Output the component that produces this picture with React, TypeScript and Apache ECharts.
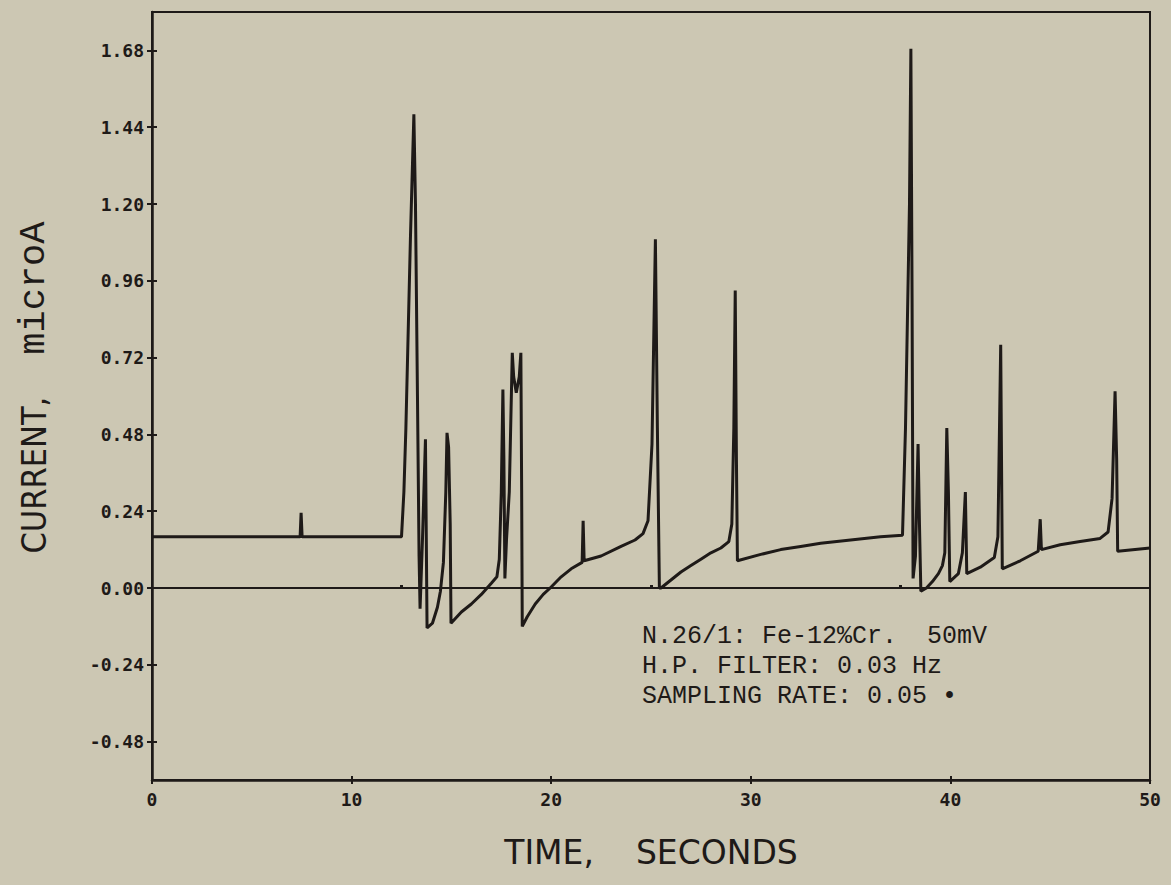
import React, { useEffect, useRef } from "react";
import * as echarts from "echarts";

// time (s) and current (microA)
const times: number[] = [
  0, 7.42, 7.47, 7.52, 12.5, 12.62, 12.72, 12.95, 13.12, 13.2, 13.3, 13.38, 13.43, 13.55, 13.7, 13.78,
  14.05, 14.3, 14.45, 14.6, 14.72, 14.78, 14.86, 14.94, 14.98, 15.5, 16.0, 16.5, 17.0, 17.28, 17.4,
  17.5, 17.58, 17.63, 17.68, 17.76, 17.9, 18.05, 18.12, 18.25, 18.4, 18.48, 18.52, 18.55, 18.8, 19.2,
  19.6, 19.95, 20.5, 21.0, 21.55, 21.6, 21.65, 22.5, 23.5, 24.2, 24.6, 24.85, 25.05, 25.22, 25.32,
  25.42, 25.5, 26.0, 26.5, 27.0, 27.5, 28.0, 28.5, 28.9, 29.05, 29.15, 29.22, 29.28, 29.33, 30.5,
  31.5, 32.5, 33.5, 35.0, 36.5, 37.6, 37.75, 37.95, 38.02, 38.08, 38.13, 38.25, 38.38, 38.45, 38.52,
  38.8, 39.1, 39.4, 39.6, 39.72, 39.82, 39.9, 39.97, 40.4, 40.6, 40.75, 40.82, 41.5, 42.2, 42.38,
  42.52, 42.6, 43.5, 44.4, 44.5, 44.56, 45.5, 46.5, 47.5, 47.9, 48.1, 48.25, 48.33, 48.38, 50.0,
];
const currents: number[] = [
  0.16, 0.16, 0.235, 0.16, 0.16, 0.3, 0.5, 1.1, 1.48, 1.2, 0.6, 0.1, -0.065, 0.15, 0.465, -0.125,
  -0.11, -0.06, -0.01, 0.08, 0.3, 0.485, 0.44, 0.2, -0.11, -0.075, -0.05, -0.02, 0.015, 0.035, 0.09,
  0.3, 0.62, 0.4, 0.03, 0.15, 0.3, 0.735, 0.66, 0.61, 0.66, 0.735, 0.3, -0.12, -0.09, -0.05,
  -0.02, 0.0, 0.035, 0.06, 0.08, 0.21, 0.085, 0.1, 0.13, 0.15, 0.17, 0.21, 0.45, 1.09, 0.5,
  0.0, 0.0, 0.025, 0.05, 0.07, 0.09, 0.11, 0.125, 0.145, 0.2, 0.5, 0.93, 0.4, 0.085, 0.105,
  0.12, 0.13, 0.14, 0.15, 0.16, 0.165, 0.5, 1.2, 1.685, 0.9, 0.03, 0.1, 0.45, 0.2, -0.01,
  0.0, 0.02, 0.045, 0.07, 0.11, 0.5, 0.3, 0.02, 0.045, 0.11, 0.3, 0.045, 0.065, 0.095, 0.16,
  0.76, 0.06, 0.085, 0.115, 0.215, 0.12, 0.135, 0.145, 0.155, 0.175, 0.28, 0.615, 0.4, 0.115, 0.125,
];

const yTicks: number[] = [-0.48, -0.24, 0, 0.24, 0.48, 0.72, 0.96, 1.2, 1.44, 1.68];
const xTicks: number[] = [0, 10, 20, 30, 40, 50];
const zeroLineTicks: number[] = [12.5, 25, 37.5];
const noteLines: string[] = [
  "N.26/1: Fe-12%Cr.  50mV",
  "H.P. FILTER: 0.03 Hz",
  "SAMPLING RATE: 0.05 \u2022",
];

const INK = "#1e1a18";
const BG = "#ccc7b3";

export default function App() {
  const ref = useRef<HTMLDivElement>(null);
  useEffect(() => {
    document.body.style.margin = "0";
    const chart = echarts.init(ref.current!, null, { renderer: "svg" });
    const data = times.map((t, i) => [t, currents[i]]);
    const tickFont = { fontFamily: "DejaVu Sans Mono", fontWeight: "bold" as const, fontSize: 18, color: INK };
    chart.setOption({
      animation: false,
      backgroundColor: BG,
      grid: { left: 152, right: 21, top: 12, bottom: 105, show: true, borderColor: INK, borderWidth: 2 },
      xAxis: [
        {
          type: "value", min: 0, max: 50, interval: 10, position: "bottom",
          axisLine: { onZero: false, lineStyle: { color: INK, width: 2.5 } },
          axisTick: { show: true, length: 4, lineStyle: { color: INK, width: 2 }, customValues: xTicks },
          axisLabel: { ...tickFont, margin: 10, customValues: xTicks, formatter: (v: number) => String(v) },
          splitLine: { show: false },
          name: "TIME,    SECONDS", nameLocation: "middle", nameGap: 56,
          nameTextStyle: { fontFamily: "DejaVu Sans", fontSize: 33, color: INK },
        },
        {
          type: "value", min: 0, max: 50, interval: 10, position: "bottom",
          axisLine: { show: false, onZero: false },
          axisTick: { show: true, inside: true, length: 4, lineStyle: { color: INK, width: 2 }, customValues: xTicks },
          axisLabel: { show: false }, splitLine: { show: false },
        },
        {
          type: "value", min: 0, max: 50,
          axisLine: { show: true, onZero: true, lineStyle: { color: INK, width: 2 } },
          axisTick: { show: true, length: 3, lineStyle: { color: INK, width: 3 }, customValues: zeroLineTicks },
          axisLabel: { show: false }, splitLine: { show: false },
        },
      ],
      yAxis: [
        {
          type: "value", min: -0.6, max: 1.8, position: "left",
          axisLine: { show: true, onZero: false, lineStyle: { color: INK, width: 2.5 } },
          axisTick: { show: true, length: 5, lineStyle: { color: INK, width: 2 }, customValues: yTicks },
          axisLabel: { ...tickFont, margin: 8, customValues: yTicks, formatter: (v: number) => v.toFixed(2) },
          splitLine: { show: false },
          name: "{a|CURRENT,}{b|microA}", nameLocation: "middle", nameRotate: 90, nameGap: 100,
          nameTextStyle: {
            color: INK,
            rich: {
              a: { fontFamily: "'DejaVu Sans Condensed', 'DejaVu Sans'", fontSize: 34, color: INK, padding: [0, 0, 0, 17] },
              b: { fontFamily: "Liberation Mono", fontSize: 37, color: INK, padding: [0, 0, 0, 42] },
            },
          },
        },
        {
          type: "value", min: -0.6, max: 1.8, position: "left",
          axisLine: { show: false, onZero: false },
          axisTick: { show: true, inside: true, length: 5, lineStyle: { color: INK, width: 2 }, customValues: yTicks },
          axisLabel: { show: false }, splitLine: { show: false },
        },
      ],
      series: [
        {
          type: "line", xAxisIndex: 0, yAxisIndex: 0, data, symbol: "none", smooth: false,
          lineStyle: { color: INK, width: 3 }, clip: true,
        },
      ],
      graphic: noteLines.map((txt, i) => ({
        type: "text", left: 642, top: 624 + i * 30,
        style: { text: txt, fill: INK, font: "25px 'Liberation Mono', 'DejaVu Sans Mono', monospace" },
      })),
    });
    return () => chart.dispose();
  }, []);
  return <div ref={ref} style={{ width: 1171, height: 885, background: BG }} />;
}
